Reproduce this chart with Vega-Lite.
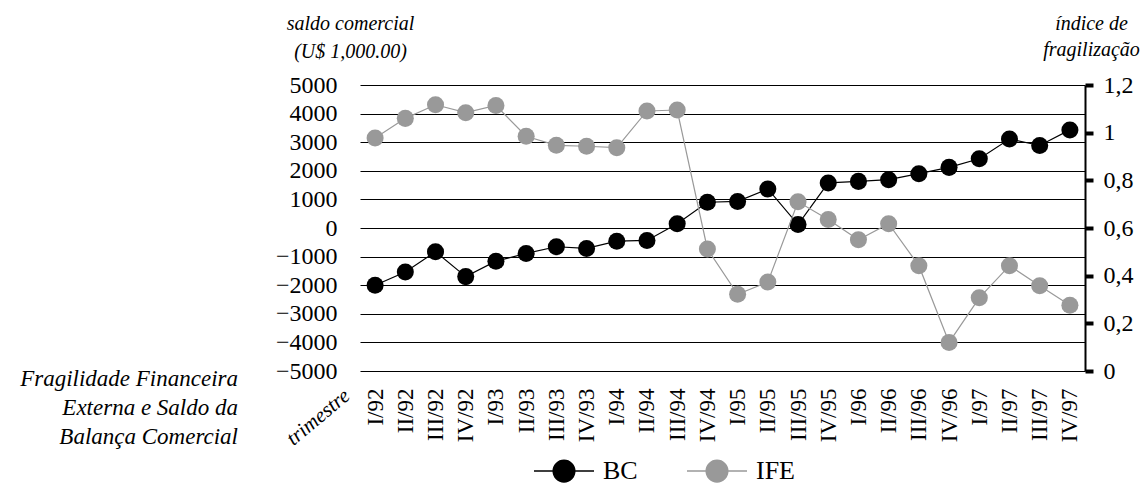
{
  "$schema": "https://vega.github.io/schema/vega-lite/v6.json",
  "width": 725,
  "height": 286,
  "autosize": {"type": "none"},
  "padding": {"left": 360, "top": 85, "right": 61, "bottom": 114},
  "background": "white",
  "config": {
    "font": "Liberation Serif",
    "view": {"stroke": null},
    "axis": {"labelColor": "black", "titleColor": "black", "labelFont": "Liberation Serif", "titleFont": "Liberation Serif"}
  },
  "title": {
    "text": ["Fragilidade Financeira", "Externa e Saldo da", "Balança Comercial"],
    "orient": "bottom",
    "anchor": "start",
    "frame": "group",
    "align": "right",
    "baseline": "top",
    "dx": -122,
    "dy": -117,
    "offset": 0,
    "fontSize": 23,
    "fontStyle": "italic",
    "fontWeight": "normal",
    "font": "Liberation Serif",
    "lineHeight": 29,
    "color": "black"
  },
  "data": {
    "values": [
      {"trimestre": "I/92", "serie": "BC", "valor": -2000},
      {"trimestre": "II/92", "serie": "BC", "valor": -1540},
      {"trimestre": "III/92", "serie": "BC", "valor": -830},
      {"trimestre": "IV/92", "serie": "BC", "valor": -1700},
      {"trimestre": "I/93", "serie": "BC", "valor": -1160},
      {"trimestre": "II/93", "serie": "BC", "valor": -890},
      {"trimestre": "III/93", "serie": "BC", "valor": -655},
      {"trimestre": "IV/93", "serie": "BC", "valor": -715},
      {"trimestre": "I/94", "serie": "BC", "valor": -460},
      {"trimestre": "II/94", "serie": "BC", "valor": -435},
      {"trimestre": "III/94", "serie": "BC", "valor": 150},
      {"trimestre": "IV/94", "serie": "BC", "valor": 900},
      {"trimestre": "I/95", "serie": "BC", "valor": 930},
      {"trimestre": "II/95", "serie": "BC", "valor": 1365},
      {"trimestre": "III/95", "serie": "BC", "valor": 120},
      {"trimestre": "IV/95", "serie": "BC", "valor": 1575},
      {"trimestre": "I/96", "serie": "BC", "valor": 1630},
      {"trimestre": "II/96", "serie": "BC", "valor": 1690},
      {"trimestre": "III/96", "serie": "BC", "valor": 1900},
      {"trimestre": "IV/96", "serie": "BC", "valor": 2120},
      {"trimestre": "I/97", "serie": "BC", "valor": 2420},
      {"trimestre": "II/97", "serie": "BC", "valor": 3110},
      {"trimestre": "III/97", "serie": "BC", "valor": 2885},
      {"trimestre": "IV/97", "serie": "BC", "valor": 3430},
      {"trimestre": "I/92", "serie": "IFE", "valor": 0.978},
      {"trimestre": "II/92", "serie": "IFE", "valor": 1.06},
      {"trimestre": "III/92", "serie": "IFE", "valor": 1.117},
      {"trimestre": "IV/92", "serie": "IFE", "valor": 1.084},
      {"trimestre": "I/93", "serie": "IFE", "valor": 1.114},
      {"trimestre": "II/93", "serie": "IFE", "valor": 0.985},
      {"trimestre": "III/93", "serie": "IFE", "valor": 0.947},
      {"trimestre": "IV/93", "serie": "IFE", "valor": 0.943},
      {"trimestre": "I/94", "serie": "IFE", "valor": 0.937},
      {"trimestre": "II/94", "serie": "IFE", "valor": 1.091},
      {"trimestre": "III/94", "serie": "IFE", "valor": 1.095},
      {"trimestre": "IV/94", "serie": "IFE", "valor": 0.512},
      {"trimestre": "I/95", "serie": "IFE", "valor": 0.322},
      {"trimestre": "II/95", "serie": "IFE", "valor": 0.373},
      {"trimestre": "III/95", "serie": "IFE", "valor": 0.71},
      {"trimestre": "IV/95", "serie": "IFE", "valor": 0.636},
      {"trimestre": "I/96", "serie": "IFE", "valor": 0.551},
      {"trimestre": "II/96", "serie": "IFE", "valor": 0.618},
      {"trimestre": "III/96", "serie": "IFE", "valor": 0.442},
      {"trimestre": "IV/96", "serie": "IFE", "valor": 0.12},
      {"trimestre": "I/97", "serie": "IFE", "valor": 0.307},
      {"trimestre": "II/97", "serie": "IFE", "valor": 0.442},
      {"trimestre": "III/97", "serie": "IFE", "valor": 0.358},
      {"trimestre": "IV/97", "serie": "IFE", "valor": 0.276}
    ]
  },
  "encoding": {
    "x": {
      "field": "trimestre",
      "type": "ordinal",
      "sort": ["I/92", "II/92", "III/92", "IV/92", "I/93", "II/93", "III/93", "IV/93", "I/94", "II/94", "III/94", "IV/94", "I/95", "II/95", "III/95", "IV/95", "I/96", "II/96", "III/96", "IV/96", "I/97", "II/97", "III/97", "IV/97"],
      "scale": {"type": "point", "padding": 0.5},
      "axis": {
        "title": "trimestre",
        "titleAngle": -40,
        "titleX": -42,
        "titleY": 46,
        "titleAlign": "center",
        "titleBaseline": "middle",
        "titleFontStyle": "italic",
        "titleFontWeight": "normal",
        "titleFontSize": 21,
        "labelAngle": -90,
        "labelFontSize": 23,
        "labelPadding": 17,
        "labelAlign": "right",
        "labelBaseline": "middle",
        "domain": false,
        "ticks": false,
        "grid": false
      }
    },
    "color": {
      "field": "serie",
      "type": "nominal",
      "scale": {"domain": ["BC", "IFE"], "range": ["black", "#999999"]},
      "legend": {
        "orient": "none",
        "legendX": 173,
        "legendY": 355,
        "direction": "horizontal",
        "columns": 2,
        "title": null,
        "symbolType": "M-1,0H1M-0.36,0A0.36,0.36,0,1,1,0.36,0A0.36,0.36,0,1,1,-0.36,0Z",
        "symbolSize": 3600,
        "symbolStrokeWidth": 1.5,
        "labelFontSize": 26,
        "labelFont": "Liberation Serif",
        "labelColor": "black",
        "labelOffset": 8,
        "columnPadding": 46,
        "padding": 0,
        "encode": {
          "symbols": {
            "update": {
              "fill": {"scale": "color", "field": "value"},
              "stroke": {"scale": "color", "field": "value"},
              "opacity": {"value": 1}
            }
          }
        }
      }
    }
  },
  "layer": [
    {
      "transform": [{"filter": "datum.serie === 'BC'"}],
      "encoding": {
        "y": {
          "field": "valor",
          "type": "quantitative",
          "scale": {"domain": [-5000, 5000], "nice": false, "zero": false},
          "axis": {
            "orient": "left",
            "values": [-5000, -4000, -3000, -2000, -1000, 0, 1000, 2000, 3000, 4000, 5000],
            "format": "d",
            "grid": true,
            "gridColor": "black",
            "gridWidth": 1,
            "gridOpacity": 1,
            "domain": false,
            "ticks": false,
            "labelFontSize": 24,
            "labelPadding": 23,
            "title": ["saldo comercial", "(U$ 1,000.00)"],
            "titleAngle": 0,
            "titleAlign": "center",
            "titleBaseline": "alphabetic",
            "titleX": -10,
            "titleY": -56,
            "titleFontStyle": "italic",
            "titleFontWeight": "normal",
            "titleFontSize": 20,
            "titleLineHeight": 28
          }
        }
      },
      "layer": [
        {"mark": {"type": "line", "strokeWidth": 1.2}},
        {"mark": {"type": "point", "filled": true, "size": 290, "opacity": 1}}
      ]
    },
    {
      "transform": [{"filter": "datum.serie === 'IFE'"}],
      "encoding": {
        "y": {
          "field": "valor",
          "type": "quantitative",
          "scale": {"domain": [0, 1.2], "nice": false, "zero": false},
          "axis": {
            "orient": "right",
            "values": [0, 0.2, 0.4, 0.6, 0.8, 1, 1.2],
            "labelExpr": "replace(format(datum.value, '.1~f'), '.', ',')",
            "grid": false,
            "domain": true,
            "domainColor": "black",
            "domainWidth": 2,
            "ticks": true,
            "tickColor": "black",
            "tickWidth": 4,
            "tickSize": 8,
            "labelFontSize": 24,
            "labelPadding": 10,
            "title": ["índice de", "fragilização"],
            "titleAngle": 0,
            "titleAlign": "center",
            "titleBaseline": "alphabetic",
            "titleX": 6,
            "titleY": -56,
            "titleFontStyle": "italic",
            "titleFontWeight": "normal",
            "titleFontSize": 20,
            "titleLineHeight": 26
          }
        }
      },
      "layer": [
        {"mark": {"type": "line", "strokeWidth": 1.2}},
        {"mark": {"type": "point", "filled": true, "size": 290, "opacity": 1}}
      ]
    }
  ],
  "resolve": {"scale": {"y": "independent"}}
}
